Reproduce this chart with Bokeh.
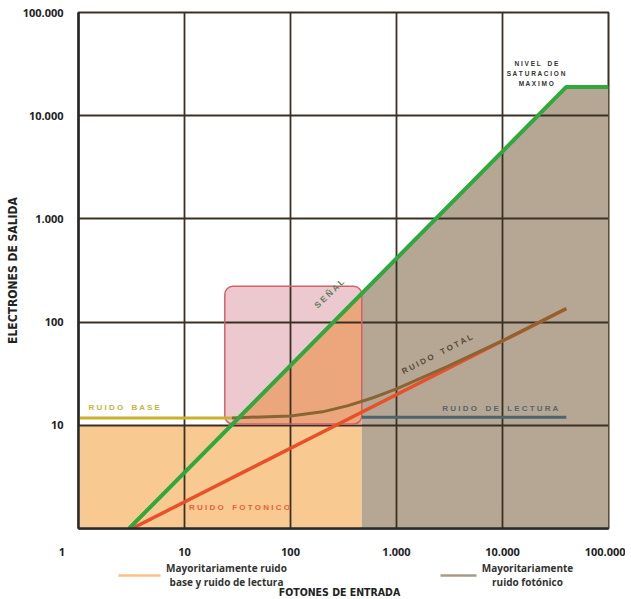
import math
from bokeh.plotting import figure
from bokeh.layouts import column
from bokeh.models import FixedTicker, CustomJSTickFormatter, Label, Range1d
from bokeh.core.properties import value
from bokeh.embed import file_html
from bokeh.resources import INLINE

# ---------------- data ----------------
x_ticks = [1, 10, 100, 1000, 10000, 100000]
y_ticks = [10, 100, 1000, 10000, 100000]

signal_x = [3, 40000, 100000]
signal_y = [1, 19000, 19000]

photon_x = [3.2, 40000]
photon_y = [1, 135]

total_x = [28, 100, 200, 350, 600, 1000, 3000, 10000, 40000]
total_y = [11.8, 12.3, 13.5, 15.5, 18.5, 22.5, 37, 66, 135]

base_x = [1, 28]
base_y = [11.8, 11.8]

read_x = [470, 40000]
read_y = [12, 12]

orange_x = [1, 1, 470, 470]
orange_y = [1, 10, 10, 1]

gray_x = [470, 470, 40000, 100000, 100000]
gray_y = [1, 190, 19000, 19000, 1]

box_left, box_right, box_bottom, box_top = 24, 470, 10.3, 222

salmon_x = [28, 470, 470]
salmon_y = [10.3, 190, 10.3]

legend_texts = [["Mayoritariamente ruido", "base y ruido de lectura"],
                ["Mayoritariamente", "ruido fotónico"]]
legend_colors = ["#f9c08a", "#a89a88"]

COND = "'DejaVu Sans Condensed', 'Liberation Sans Narrow', Roboto, sans-serif"

# ---------------- helpers (page px -> data) ----------------
FX0, FX1, FY0, FY1 = 78, 608, 12, 530
XDEC = (FX1 - FX0) / 5.0
YDEC = (FY1 - FY0) / 5.0


def dx(px):
    return 10 ** ((px - FX0) / XDEC)


def dy(py):
    return 10 ** ((FY1 - py) / YDEC)


GRID = "#3a3024"
W = 625
p = figure(width=W, height=561, x_axis_type="log", y_axis_type="log",
           x_range=(1, 100000), y_range=(1, 100000),
           output_backend="svg", toolbar_location=None,
           min_border_left=FX0, min_border_right=W - FX1, min_border_top=FY0, min_border_bottom=31)
p.background_fill_color = "white"
p.border_fill_color = "white"
p.outline_line_color = GRID
p.outline_line_width = 2

p.xaxis.ticker = FixedTicker(ticks=x_ticks)
p.yaxis.ticker = FixedTicker(ticks=y_ticks)
fmt_code = """
if (Math.abs(tick - 1) < 1e-9) { return '1\u2003\u2003\u2003'; }
return Math.round(tick).toString().replace(/\\B(?=(\\d{3})+(?!\\d))/g, '.');
"""
for ax in (p.xaxis[0], p.yaxis[0]):
    ax.formatter = CustomJSTickFormatter(code=fmt_code)
    ax.major_tick_in = 0
    ax.major_tick_out = 0
    ax.minor_tick_in = 0
    ax.minor_tick_out = 0
    ax.axis_line_color = "#2a2a2a"
    ax.axis_line_width = 2.5
    ax.major_label_text_font = "Open Sans"
    ax.major_label_text_font_style = "bold"
    ax.major_label_text_font_size = "11px"
    ax.major_label_text_color = "#222222"
p.xaxis.major_label_standoff = 15
p.yaxis.major_label_standoff = 15
p.yaxis.axis_label = "ELECTRONES DE SALIDA"
p.yaxis.axis_label_standoff = 0
p.yaxis.axis_label_text_font = COND
p.yaxis.axis_label_text_font_style = "bold"
p.yaxis.axis_label_text_font_size = "12px"
p.yaxis.axis_label_text_color = "#222222"

p.xgrid.ticker = FixedTicker(ticks=x_ticks)
p.ygrid.ticker = FixedTicker(ticks=y_ticks)
for g in (p.xgrid[0], p.ygrid[0]):
    g.grid_line_color = GRID
    g.grid_line_width = 1.8
    g.grid_line_alpha = 1.0

# ---------------- regions ----------------
p.patch(orange_x, orange_y, fill_color="#f9c992", line_color=None, level="image")
p.patch(gray_x, gray_y, fill_color="#b5a793", line_color=None, level="image")
p.quad(left=[box_left], right=[box_right], bottom=[box_bottom], top=[box_top],
       fill_color="#ecc8cf", fill_alpha=1, line_color=None, border_radius=8, level="image")
p.patch(salmon_x, salmon_y, fill_color="#eba67c", line_color=None, level="image")
p.quad(left=[box_left], right=[box_right], bottom=[box_bottom], top=[box_top],
       fill_color=None, line_color="#d4606a", line_width=1.5, border_radius=8)

# ---------------- lines ----------------
p.line(base_x, base_y, line_color="#c9b030", line_width=3)
p.line(read_x, read_y, line_color="#4d6470", line_width=3)
p.line(photon_x, photon_y, line_color="#e8502a", line_width=3.5)
p.line(total_x, total_y, line_color="#8b6434", line_width=3)
p.line(signal_x, signal_y, line_color="#2fa83c", line_width=4)


# ---------------- in-plot labels ----------------
def spaced(s):
    return " \u2002 ".join(" ".join(list(w)) for w in s.split(" "))


def lab(text, px, py, color, size="8px", angle=0.0, align="center"):
    p.add_layout(Label(x=dx(px), y=dy(py), text=text, text_color=color, text_font_size=size,
                       text_font="Liberation Sans", text_font_style="bold", text_align=align,
                       text_baseline="middle", angle=angle))


lab(spaced("RUIDO BASE"), 88, 409, "#c4b440", align="left")
lab(spaced("RUIDO FOTONICO"), 239, 509, "#e8603a")
lab(spaced("SEÑAL"), 329, 294, "#5a8060", size="8.5px", angle=math.radians(44))
lab(spaced("RUIDO TOTAL"), 437, 355, "#5a4a3a", angle=math.radians(27))
lab(spaced("RUIDO DE LECTURA"), 500, 410, "#5a6470")
lab(spaced("NIVEL DE"), 536, 63, "#333333", size="6.5px")
lab(spaced("SATURACION"), 536, 73, "#333333", size="6.5px")
lab(spaced("MAXIMO"), 536, 83, "#333333", size="6.5px")

# ---------------- bottom strip: legend + x title ----------------
# (the column layout aligns this strip's frame with the chart frame: page x 78..608)
S0, S1 = 561, 598
s = figure(width=W, height=S1 - S0, x_range=Range1d(FX0, FX1), y_range=Range1d(S1, S0),
           output_backend="svg", toolbar_location=None,
           x_axis_location=None, y_axis_location=None,
           min_border_left=FX0, min_border_right=W - FX1, min_border_top=0, min_border_bottom=0)
s.grid.visible = False
s.outline_line_color = None
s.background_fill_color = "white"
s.border_fill_color = "white"

s.line([118, 160], [575, 575], line_color=legend_colors[0], line_width=2.5)
s.line([440, 476], [575, 575], line_color=legend_colors[1], line_width=2.5)
s.text(x=[226, 226, 527, 527], y=[567, 581, 567, 581],
       text=[legend_texts[0][0], legend_texts[0][1], legend_texts[1][0], legend_texts[1][1]],
       text_font=value("Open Sans"), text_font_style="bold", text_font_size="10px",
       text_color="#333333", text_align="center", text_baseline="middle")
s.text(x=[339], y=[591], text=["FOTONES DE ENTRADA"],
       text_font=value(COND), text_font_style="bold", text_font_size="10.5px",
       text_color="#222222", text_align="center", text_baseline="middle")

layout = column(p, s, spacing=0)
open("out.html", "w").write(file_html(layout, INLINE))
